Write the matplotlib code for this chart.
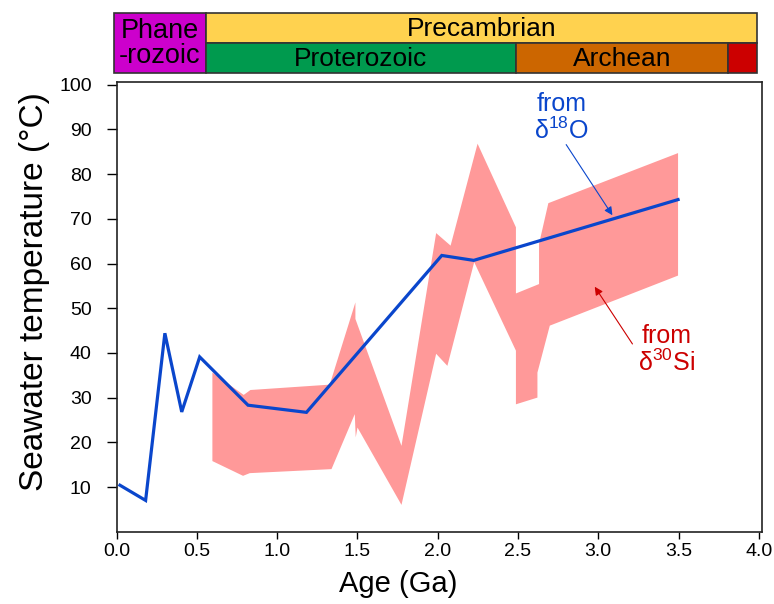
import numpy as np
import matplotlib
matplotlib.use("Agg")
import matplotlib.pyplot as plt
from matplotlib.patches import Rectangle

# ======= Data =======
# blue curve: temperature from d18O
o18_age = [0.02, 0.18, 0.30, 0.405, 0.517, 0.818, 1.182, 2.025, 2.224, 3.497]
o18_temp = [10.4, 7.0, 44.4, 26.8, 39.1, 28.3, 26.7, 61.8, 60.7, 74.3]

# pink band: temperature range from d30Si (upper and lower edges)
si_up_age = [0.596, 0.791, 0.833, 1.327, 1.487, 1.487, 1.774, 1.99, 2.08, 2.248,
             2.487, 2.487, 2.631, 2.631, 2.689, 3.497]
si_up_temp = [35.6, 30.6, 31.7, 32.9, 51.3, 47.6, 19.2, 66.8, 64.0, 86.8,
              68.1, 53.3, 55.4, 64.4, 73.5, 84.7]
si_lo_age = [0.596, 0.787, 0.829, 1.338, 1.483, 1.489, 1.50, 1.774, 1.99, 2.06,
             2.227, 2.487, 2.487, 2.621, 2.621, 2.698, 3.497]
si_lo_temp = [15.8, 12.5, 13.1, 14.0, 26.3, 21.1, 23.3, 6.0, 39.8, 37.1,
              60.3, 40.5, 28.5, 30.0, 35.6, 46.1, 57.3]

# geologic time bar
eon_names = ["Phane\n-rozoic", "Precambrian", "Proterozoic", "Archean", ""]
eon_start = [-0.02, 0.555, 0.555, 2.486, 3.807]
eon_end = [0.555, 3.988, 2.486, 3.807, 3.988]
eon_row = [0, 1, 0, 0, 0]
eon_height = [2, 1, 1, 1, 1]
eon_color = ["#CC00CC", "#FFD24F", "#009A4E", "#CC6600", "#CC0000"]

x_ticks = [0.0, 0.5, 1.0, 1.5, 2.0, 2.5, 3.0, 3.5, 4.0]
y_ticks = [10, 20, 30, 40, 50, 60, 70, 80, 90, 100]

# annotation anchors (age, temperature)
o18_label_at = (2.77, 92.6)
o18_arrow = ((2.80, 86.6), (3.088, 70.8))
si_label_at = (3.425, 40.7)
si_arrow = ((3.213, 42.0), (2.978, 54.8))

BLUE = "#0A46CC"
RED = "#CC0000"
PINK = "#FF9999"
# ==========================================

plt.rcParams.update({
    "font.family": ["Liberation Sans", "DejaVu Sans"],
    "mathtext.fontset": "custom",
    "mathtext.rm": "Liberation Sans",
    "mathtext.it": "Liberation Sans",
    "mathtext.default": "regular",
})

fig = plt.figure(figsize=(7.74, 6.04), dpi=100)
ax = fig.add_axes([0.1508, 0.1197, 0.8337, 0.7445])
tax = fig.add_axes([0.1508, 0.8796, 0.8337, 0.0993])

# band + curve
ax.fill(np.r_[si_up_age, si_lo_age[::-1]], np.r_[si_up_temp, si_lo_temp[::-1]],
        color=PINK, lw=0, zorder=1)
ax.plot(o18_age, o18_temp, color=BLUE, lw=2.3, zorder=3, solid_joinstyle="miter")

# labels and arrows
ax.text(*o18_label_at, "from\nδ$^{18}$O", color=BLUE, fontsize=18,
        ha="center", va="center", linespacing=1.05)
ax.annotate("", xy=o18_arrow[1], xytext=o18_arrow[0],
            arrowprops=dict(arrowstyle="-|>", color=BLUE, lw=0.8,
                            mutation_scale=12, shrinkA=0, shrinkB=0))
ax.text(*si_label_at, "from\nδ$^{30}$Si", color=RED, fontsize=18,
        ha="center", va="center", linespacing=1.05)
ax.annotate("", xy=si_arrow[1], xytext=si_arrow[0],
            arrowprops=dict(arrowstyle="-|>", color=RED, lw=0.8,
                            mutation_scale=12, shrinkA=0, shrinkB=0))

ax.set_xlim(0, 4.02)
ax.set_ylim(0, 100.6)
ax.set_xticks(x_ticks)
ax.set_xticklabels([f"{v:.1f}" for v in x_ticks])
ax.set_yticks(y_ticks)
ax.tick_params(axis="x", direction="out", length=5, width=1, pad=3, labelsize=14)
ax.tick_params(axis="y", direction="out", length=7, width=1, pad=11, labelsize=14)
for s in ax.spines.values():
    s.set_linewidth(1.2)
    s.set_color("#222222")
ax.set_xlabel("Age (Ga)", fontsize=21, labelpad=8)
ax.xaxis.set_label_coords(0.436, -0.085)
ax.set_ylabel("Seawater temperature (°C)", fontsize=24, labelpad=8)
ax.yaxis.set_label_coords(-0.103, 0.533)

# time bar on top
tax.set_xlim(ax.get_xlim())
tax.set_ylim(0, 2)
tax.axis("off")
for name, x0, x1, row, h, c in zip(eon_names, eon_start, eon_end, eon_row,
                                  eon_height, eon_color):
    tax.add_patch(Rectangle((x0, row), x1 - x0, h, facecolor=c,
                            edgecolor="#333333", lw=1.2, clip_on=False))
    if name:
        tax.text((x0 + x1) / 2, row + h / 2 - (0.03 if "\n" in name else 0.05),
                 name, ha="center", va="center",
                 fontsize=19.5 if "\n" in name else 19,
                 linespacing=0.92, clip_on=False)

fig.savefig("out.png", dpi=100)
